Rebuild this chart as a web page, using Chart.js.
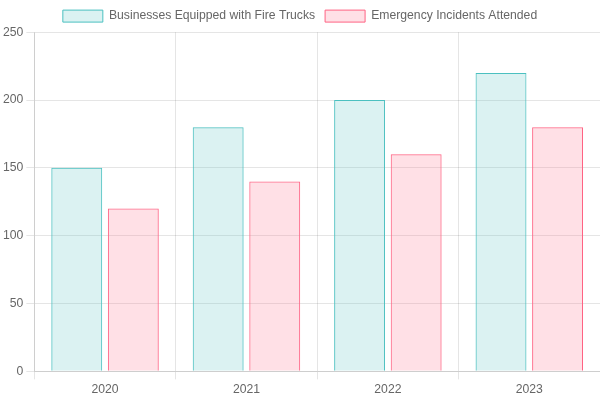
<!DOCTYPE html>
<html>
<head>
<meta charset="utf-8">
<script src="https://cdn.jsdelivr.net/npm/chart.js"></script>
<style>
html,body{margin:0;padding:0;background:#fff;}
#wrap{width:600px;height:400px;}
</style>
</head>
<body>
<div id="wrap"><canvas id="c" width="600" height="400"></canvas></div>
<script>
const categories = ["2020", "2021", "2022", "2023"];
const fireTrucks = [150, 180, 200, 220];
const incidents = [120, 140, 160, 180];
const seriesNames = ["Businesses Equipped with Fire Trucks", "Emergency Incidents Attended"];

Chart.defaults.font.family = "'Liberation Sans', Arial, sans-serif";
Chart.defaults.font.size = 12.2;
new Chart(document.getElementById('c'), {
  type: 'bar',
  data: {
    labels: categories,
    datasets: [
      { label: seriesNames[0], data: fireTrucks, backgroundColor: 'rgba(75,192,192,0.2)', borderColor: 'rgb(75,192,192)', borderWidth: 1 },
      { label: seriesNames[1], data: incidents, backgroundColor: 'rgba(255,99,132,0.2)', borderColor: 'rgb(255,99,132)', borderWidth: 1 }
    ]
  },
  options: {
    responsive: false,
    animation: false,
    plugins: {
      legend: { labels: { boxWidth: 40, boxHeight: 12 } }
    },
    scales: {
      y: { beginAtZero: true, max: 250, ticks: { stepSize: 50 } }
    }
  }
});
</script>
</body>
</html>
